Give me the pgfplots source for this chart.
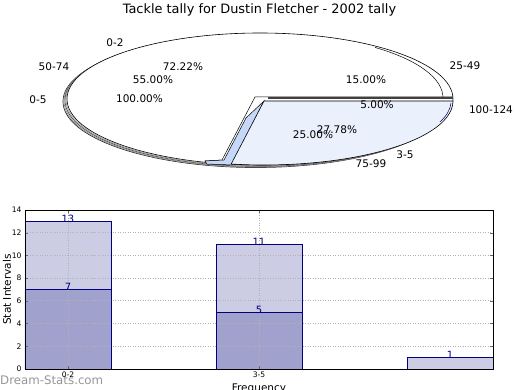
\documentclass[border=0pt]{standalone}
\usepackage{pgfplots}
\pgfplotsset{compat=1.18}
\usepackage{fontspec}
\setmainfont{DejaVu Sans}
\definecolor{lightbar}{RGB}{204,204,228}
\definecolor{darkbar}{RGB}{161,161,206}
\definecolor{navyc}{RGB}{0,0,128}
\definecolor{pieblue}{RGB}{235,241,252}
\definecolor{piemid}{RGB}{198,216,248}
\definecolor{wm}{RGB}{150,150,150}
\newcommand{\pielab}{\fontsize{10.5}{12}\selectfont}
\begin{document}
\begin{tikzpicture}
\path[use as bounding box] (0,0) rectangle (520pt,390pt);
% ---------------- pie (pixel coordinates, y downward)
\begin{axis}[hide axis, scale only axis, width=520pt, height=390pt,
  xmin=0, xmax=520, ymin=0, ymax=390, y dir=reverse,
  at={(0pt,0pt)}, anchor=south west, clip=false]
% shadow outlines
\draw[black!85, line width=0.7pt] (axis cs:256,101.5) ellipse [x radius=193pt, y radius=66pt];
\draw[black!45, line width=0.7pt] (axis cs:257,101) ellipse [x radius=193pt, y radius=66pt];
\draw[black!70, line width=0.7pt] (axis cs:258,100.3) ellipse [x radius=193pt, y radius=66pt];
\draw[black!40, line width=0.7pt] (axis cs:259,99.7) ellipse [x radius=193pt, y radius=66pt];
% main pie
\filldraw[fill=white, draw=black, line width=0.6pt] (axis cs:260,99) ellipse [x radius=193pt, y radius=66pt];
% inner arc top right
\draw[black, line width=0.5pt] (axis cs:443,98) arc[start angle=0, end angle=51, x radius=183pt, y radius=65pt];
% white wedge outline
\draw[black, line width=0.5pt] (axis cs:205,161) -- (axis cs:222,160) -- (axis cs:255,97) -- (axis cs:453,97);
\draw[black!75, line width=1.3pt] (axis cs:268,98) -- (axis cs:453,98);
% medium blue side
\filldraw[fill=piemid, draw=black, line width=0.5pt] (axis cs:264,101) -- (axis cs:246,118) -- (axis cs:224,160) -- (axis cs:205,161) -- (axis cs:207,164) -- (axis cs:232,165) -- cycle;
% light blue sector
\filldraw[fill=pieblue, draw=black, line width=0.6pt] (axis cs:264,101) -- (axis cs:453,101) arc[start angle=0, end angle=-100, x radius=189pt, y radius=64pt] -- cycle;
\draw[black!60!blue, line width=0.5pt] (axis cs:451,103) arc[start angle=-2, end angle=-20, x radius=187pt, y radius=62pt];
% title
\node[font=\fontsize{12.9}{15}\selectfont, inner sep=0pt] at (axis cs:259.5,10) {Tackle tally for Dustin Fletcher - 2002 tally};
% labels
\node[font=\pielab, inner sep=0pt] at (axis cs:115,43) {0-2};
\node[font=\pielab, inner sep=0pt] at (axis cs:54,67) {50-74};
\node[font=\pielab, inner sep=0pt] at (axis cs:38,100) {0-5};
\node[font=\pielab, inner sep=0pt] at (axis cs:465,66) {25-49};
\node[font=\pielab, inner sep=0pt] at (axis cs:491,110) {100-124};
\node[font=\pielab, inner sep=0pt] at (axis cs:405,155) {3-5};
\node[font=\pielab, inner sep=0pt] at (axis cs:371,164) {75-99};
\node[font=\pielab, inner sep=0pt] at (axis cs:183,67) {72.22\%};
\node[font=\pielab, inner sep=0pt] at (axis cs:153,80) {55.00\%};
\node[font=\pielab, inner sep=0pt] at (axis cs:139.5,99) {100.00\%};
\node[font=\pielab, inner sep=0pt] at (axis cs:366,80) {15.00\%};
\node[font=\pielab, inner sep=0pt] at (axis cs:377,105) {5.00\%};
\node[font=\pielab, inner sep=0pt] at (axis cs:313,135) {25.00\%};
\node[font=\pielab, inner sep=0pt] at (axis cs:337,130) {27.78\%};
% watermark
\node[font=\fontsize{11.8}{13}\selectfont, text=wm, inner sep=0pt, anchor=west] at (axis cs:0,380) {Dream-Stats.com};
\end{axis}
% ---------------- bar chart
\begin{axis}[at={(25pt,21pt)}, anchor=south west, scale only axis,
  width=468pt, height=159pt,
  xmin=-0.225, xmax=2.225, ymin=0, ymax=14,
  ytick={0,2,4,6,8,10,12,14}, xtick={0,1}, xticklabels={0-2,3-5},
  grid=major, grid style={dash pattern=on 1pt off 1.5pt, black!30, line width=0.8pt},
  axis on top, axis line style={black, line width=0.7pt},
  tick align=inside, major tick length=3pt, tick style={black!60},
  /pgf/number format/assume math mode=true,
  tick label style={font=\fontsize{7.6}{9}\selectfont},
  xticklabel style={yshift=1pt},
  label style={font=\fontsize{10.5}{12}\selectfont},
  xlabel={Frequency}, ylabel={Stat Intervals}, ylabel shift=-6pt,
  nodes near coords,
  every node near coord/.append style={text=navyc, font=\fontsize{10}{11}\selectfont, anchor=south, inner sep=0pt, yshift=-1.5pt},
]
\addplot[ybar, bar width=0.45, bar shift=0pt, fill=lightbar, draw=navyc, line width=0.7pt]
  coordinates {(0,13) (1,11) (2,1)};
\addplot[ybar, bar width=0.45, bar shift=0pt, fill=darkbar, draw=navyc, line width=0.7pt]
  coordinates {(0,7) (1,5)};
\end{axis}
\end{tikzpicture}
\end{document}
